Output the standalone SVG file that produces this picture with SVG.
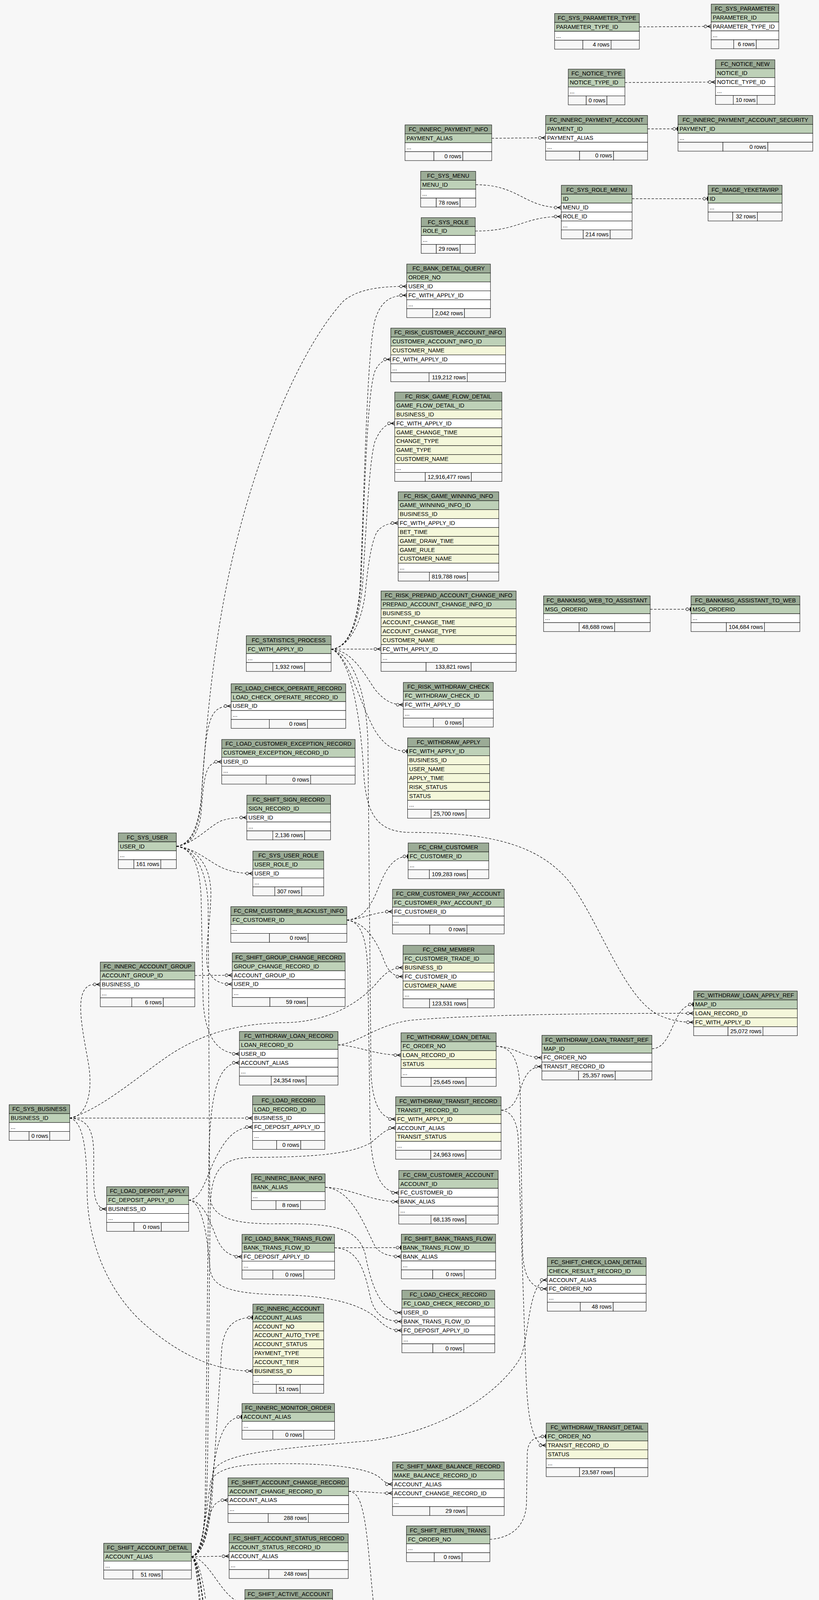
<svg xmlns="http://www.w3.org/2000/svg" width="2097" height="4999" viewBox="0 0 2097 4999">
<style>
.n rect{stroke:#000;stroke-width:1}
.h{fill:#9bab96}.pk{fill:#bed1b8}.ix{fill:#f4f7da}.w{fill:#fff}.f{fill:#f7f7f7}
text{font-family:"Liberation Sans",Arial,Helvetica,sans-serif;font-size:14.6px;fill:#000}
.c{text-anchor:middle}.r{text-anchor:end}
.e{fill:none;stroke:#000;stroke-width:1.2;stroke-dasharray:6,4}
.cr{marker-end:url(#cr)}.te{marker-end:url(#te)}
</style>
<defs>
<marker id="cr" viewBox="0 0 20 12" refX="20" refY="6" markerWidth="20" markerHeight="12" orient="auto" markerUnits="userSpaceOnUse">
<path d="M10.5,6 L20,1.5 M10.5,6 L20,6 M10.5,6 L20,10.5 M9,6 L10.5,6" stroke="#000" stroke-width="1.3" fill="none"/>
<circle cx="5.5" cy="6" r="3.6" fill="#fff" stroke="#000" stroke-width="1.1"/>
</marker>
<marker id="te" viewBox="0 0 20 12" refX="20" refY="6" markerWidth="20" markerHeight="12" orient="auto" markerUnits="userSpaceOnUse">
<path d="M14,6 L17,6" stroke="#000" stroke-width="1.2"/>
<circle cx="10.5" cy="6" r="3.6" fill="#fff" stroke="#000" stroke-width="1.1"/>
<rect x="17" y="1" width="3" height="10" fill="#000"/>
</marker>
</defs>
<rect width="2097" height="4999" fill="#f7f7f7"/>

<g id="FC_SYS_PARAMETER_TYPE" class="n" transform="translate(1420,34.5)">
<rect class="h" width="217" height="22.85"/><text class="c" x="108.5" y="16.4">FC_SYS_PARAMETER_TYPE</text>
<rect class="pk" y="22.85" width="217" height="22.85"/><text x="4" y="39.25">PARAMETER_TYPE_ID</text>
<rect class="w" y="45.7" width="217" height="22.85"/><text x="4" y="62.1">...</text>
<rect class="f" y="68.55" width="72.35" height="22.85"/><rect class="f" x="72.35" y="68.55" width="72.3" height="22.85"/><rect class="f" x="144.65" y="68.55" width="72.35" height="22.85"/><text class="r" x="140.65" y="84.95">4 rows</text>
</g>
<g id="FC_SYS_PARAMETER" class="n" transform="translate(1821,10.5)">
<rect class="h" width="173" height="22.85"/><text class="c" x="86.5" y="16.4">FC_SYS_PARAMETER</text>
<rect class="pk" y="22.85" width="173" height="22.85"/><text x="4" y="39.25">PARAMETER_ID</text>
<rect class="w" y="45.7" width="173" height="22.85"/><text x="4" y="62.1">PARAMETER_TYPE_ID</text>
<rect class="w" y="68.55" width="173" height="22.85"/><text x="4" y="84.95">...</text>
<rect class="f" y="91.4" width="57.65" height="22.85"/><rect class="f" x="57.65" y="91.4" width="57.7" height="22.85"/><rect class="f" x="115.35" y="91.4" width="57.65" height="22.85"/><text class="r" x="111.35" y="107.8">6 rows</text>
</g>
<g id="FC_NOTICE_TYPE" class="n" transform="translate(1455,177)">
<rect class="h" width="145" height="22.85"/><text class="c" x="72.5" y="16.4">FC_NOTICE_TYPE</text>
<rect class="pk" y="22.85" width="145" height="22.85"/><text x="4" y="39.25">NOTICE_TYPE_ID</text>
<rect class="w" y="45.7" width="145" height="22.85"/><text x="4" y="62.1">...</text>
<rect class="f" y="68.55" width="46" height="22.85"/><rect class="f" x="46" y="68.55" width="53" height="22.85"/><rect class="f" x="99" y="68.55" width="46" height="22.85"/><text class="r" x="95" y="84.95">0 rows</text>
</g>
<g id="FC_NOTICE_NEW" class="n" transform="translate(1832,153)">
<rect class="h" width="152" height="22.85"/><text class="c" x="76" y="16.4">FC_NOTICE_NEW</text>
<rect class="pk" y="22.85" width="152" height="22.85"/><text x="4" y="39.25">NOTICE_ID</text>
<rect class="w" y="45.7" width="152" height="22.85"/><text x="4" y="62.1">NOTICE_TYPE_ID</text>
<rect class="w" y="68.55" width="152" height="22.85"/><text x="4" y="84.95">...</text>
<rect class="f" y="91.4" width="45.5" height="22.85"/><rect class="f" x="45.5" y="91.4" width="61" height="22.85"/><rect class="f" x="106.5" y="91.4" width="45.5" height="22.85"/><text class="r" x="102.5" y="107.8">10 rows</text>
</g>
<g id="FC_INNERC_PAYMENT_INFO" class="n" transform="translate(1037,319.7)">
<rect class="h" width="222" height="22.85"/><text class="c" x="111" y="16.4">FC_INNERC_PAYMENT_INFO</text>
<rect class="pk" y="22.85" width="222" height="22.85"/><text x="4" y="39.25">PAYMENT_ALIAS</text>
<rect class="w" y="45.7" width="222" height="22.85"/><text x="4" y="62.1">...</text>
<rect class="f" y="68.55" width="74" height="22.85"/><rect class="f" x="74" y="68.55" width="74" height="22.85"/><rect class="f" x="148" y="68.55" width="74" height="22.85"/><text class="r" x="144" y="84.95">0 rows</text>
</g>
<g id="FC_INNERC_PAYMENT_ACCOUNT" class="n" transform="translate(1397,295.6)">
<rect class="h" width="261" height="22.85"/><text class="c" x="130.5" y="16.4">FC_INNERC_PAYMENT_ACCOUNT</text>
<rect class="pk" y="22.85" width="261" height="22.85"/><text x="4" y="39.25">PAYMENT_ID</text>
<rect class="w" y="45.7" width="261" height="22.85"/><text x="4" y="62.1">PAYMENT_ALIAS</text>
<rect class="w" y="68.55" width="261" height="22.85"/><text x="4" y="84.95">...</text>
<rect class="f" y="91.4" width="87" height="22.85"/><rect class="f" x="87" y="91.4" width="87" height="22.85"/><rect class="f" x="174" y="91.4" width="87" height="22.85"/><text class="r" x="170" y="107.8">0 rows</text>
</g>
<g id="FC_INNERC_PAYMENT_ACCOUNT_SECURITY" class="n" transform="translate(1736,295.6)">
<rect class="h" width="345" height="22.85"/><text class="c" x="172.5" y="16.4">FC_INNERC_PAYMENT_ACCOUNT_SECURITY</text>
<rect class="pk" y="22.85" width="345" height="22.85"/><text x="4" y="39.25">PAYMENT_ID</text>
<rect class="w" y="45.7" width="345" height="22.85"/><text x="4" y="62.1">...</text>
<rect class="f" y="68.55" width="115" height="22.85"/><rect class="f" x="115" y="68.55" width="115" height="22.85"/><rect class="f" x="230" y="68.55" width="115" height="22.85"/><text class="r" x="226" y="84.95">0 rows</text>
</g>
<g id="FC_SYS_MENU" class="n" transform="translate(1077,438.6)">
<rect class="h" width="141" height="22.85"/><text class="c" x="70.5" y="16.4">FC_SYS_MENU</text>
<rect class="pk" y="22.85" width="141" height="22.85"/><text x="4" y="39.25">MENU_ID</text>
<rect class="w" y="45.7" width="141" height="22.85"/><text x="4" y="62.1">...</text>
<rect class="f" y="68.55" width="40" height="22.85"/><rect class="f" x="40" y="68.55" width="61" height="22.85"/><rect class="f" x="101" y="68.55" width="40" height="22.85"/><text class="r" x="97" y="84.95">78 rows</text>
</g>
<g id="FC_SYS_ROLE" class="n" transform="translate(1078.4,557.2)">
<rect class="h" width="138.5" height="22.85"/><text class="c" x="69.25" y="16.4">FC_SYS_ROLE</text>
<rect class="pk" y="22.85" width="138.5" height="22.85"/><text x="4" y="39.25">ROLE_ID</text>
<rect class="w" y="45.7" width="138.5" height="22.85"/><text x="4" y="62.1">...</text>
<rect class="f" y="68.55" width="38.75" height="22.85"/><rect class="f" x="38.75" y="68.55" width="61" height="22.85"/><rect class="f" x="99.75" y="68.55" width="38.75" height="22.85"/><text class="r" x="95.75" y="84.95">29 rows</text>
</g>
<g id="FC_SYS_ROLE_MENU" class="n" transform="translate(1437.2,474.3)">
<rect class="h" width="181.2" height="22.85"/><text class="c" x="90.6" y="16.4">FC_SYS_ROLE_MENU</text>
<rect class="pk" y="22.85" width="181.2" height="22.85"/><text x="4" y="39.25">ID</text>
<rect class="w" y="45.7" width="181.2" height="22.85"/><text x="4" y="62.1">MENU_ID</text>
<rect class="w" y="68.55" width="181.2" height="22.85"/><text x="4" y="84.95">ROLE_ID</text>
<rect class="w" y="91.4" width="181.2" height="22.85"/><text x="4" y="107.8">...</text>
<rect class="f" y="114.25" width="56.1" height="22.85"/><rect class="f" x="56.1" y="114.25" width="69" height="22.85"/><rect class="f" x="125.1" y="114.25" width="56.1" height="22.85"/><text class="r" x="121.1" y="130.65">214 rows</text>
</g>
<g id="FC_IMAGE_YEKETAVIRP" class="n" transform="translate(1813,474.3)">
<rect class="h" width="189.5" height="22.85"/><text class="c" x="94.75" y="16.4">FC_IMAGE_YEKETAVIRP</text>
<rect class="pk" y="22.85" width="189.5" height="22.85"/><text x="4" y="39.25">ID</text>
<rect class="w" y="45.7" width="189.5" height="22.85"/><text x="4" y="62.1">...</text>
<rect class="f" y="68.55" width="63.15" height="22.85"/><rect class="f" x="63.15" y="68.55" width="63.2" height="22.85"/><rect class="f" x="126.35" y="68.55" width="63.15" height="22.85"/><text class="r" x="122.35" y="84.95">32 rows</text>
</g>
<g id="FC_BANK_DETAIL_QUERY" class="n" transform="translate(1041.4,676)">
<rect class="h" width="214.4" height="22.85"/><text class="c" x="107.2" y="16.4">FC_BANK_DETAIL_QUERY</text>
<rect class="pk" y="22.85" width="214.4" height="22.85"/><text x="4" y="39.25">ORDER_NO</text>
<rect class="w" y="45.7" width="214.4" height="22.85"/><text x="4" y="62.1">USER_ID</text>
<rect class="w" y="68.55" width="214.4" height="22.85"/><text x="4" y="84.95">FC_WITH_APPLY_ID</text>
<rect class="w" y="91.4" width="214.4" height="22.85"/><text x="4" y="107.8">...</text>
<rect class="f" y="114.25" width="66.5" height="22.85"/><rect class="f" x="66.5" y="114.25" width="81.4" height="22.85"/><rect class="f" x="147.9" y="114.25" width="66.5" height="22.85"/><text class="r" x="143.9" y="130.65">2,042 rows</text>
</g>
<g id="FC_RISK_CUSTOMER_ACCOUNT_INFO" class="n" transform="translate(1000.5,840)">
<rect class="h" width="294" height="22.85"/><text class="c" x="147" y="16.4">FC_RISK_CUSTOMER_ACCOUNT_INFO</text>
<rect class="pk" y="22.85" width="294" height="22.85"/><text x="4" y="39.25">CUSTOMER_ACCOUNT_INFO_ID</text>
<rect class="ix" y="45.7" width="294" height="22.85"/><text x="4" y="62.1">CUSTOMER_NAME</text>
<rect class="w" y="68.55" width="294" height="22.85"/><text x="4" y="84.95">FC_WITH_APPLY_ID</text>
<rect class="w" y="91.4" width="294" height="22.85"/><text x="4" y="107.8">...</text>
<rect class="f" y="114.25" width="98" height="22.85"/><rect class="f" x="98" y="114.25" width="98" height="22.85"/><rect class="f" x="196" y="114.25" width="98" height="22.85"/><text class="r" x="192" y="130.65">119,212 rows</text>
</g>
<g id="FC_RISK_GAME_FLOW_DETAIL" class="n" transform="translate(1010.7,1003.8)">
<rect class="h" width="274.3" height="22.85"/><text class="c" x="137.15" y="16.4">FC_RISK_GAME_FLOW_DETAIL</text>
<rect class="pk" y="22.85" width="274.3" height="22.85"/><text x="4" y="39.25">GAME_FLOW_DETAIL_ID</text>
<rect class="ix" y="45.7" width="274.3" height="22.85"/><text x="4" y="62.1">BUSINESS_ID</text>
<rect class="w" y="68.55" width="274.3" height="22.85"/><text x="4" y="84.95">FC_WITH_APPLY_ID</text>
<rect class="ix" y="91.4" width="274.3" height="22.85"/><text x="4" y="107.8">GAME_CHANGE_TIME</text>
<rect class="ix" y="114.25" width="274.3" height="22.85"/><text x="4" y="130.65">CHANGE_TYPE</text>
<rect class="ix" y="137.1" width="274.3" height="22.85"/><text x="4" y="153.5">GAME_TYPE</text>
<rect class="ix" y="159.95" width="274.3" height="22.85"/><text x="4" y="176.35">CUSTOMER_NAME</text>
<rect class="w" y="182.8" width="274.3" height="22.85"/><text x="4" y="199.2">...</text>
<rect class="f" y="205.65" width="78.15" height="22.85"/><rect class="f" x="78.15" y="205.65" width="118" height="22.85"/><rect class="f" x="196.15" y="205.65" width="78.15" height="22.85"/><text class="r" x="192.15" y="222.05">12,916,477 rows</text>
</g>
<g id="FC_RISK_GAME_WINNING_INFO" class="n" transform="translate(1019.5,1259)">
<rect class="h" width="257.5" height="22.85"/><text class="c" x="128.75" y="16.4">FC_RISK_GAME_WINNING_INFO</text>
<rect class="pk" y="22.85" width="257.5" height="22.85"/><text x="4" y="39.25">GAME_WINNING_INFO_ID</text>
<rect class="ix" y="45.7" width="257.5" height="22.85"/><text x="4" y="62.1">BUSINESS_ID</text>
<rect class="w" y="68.55" width="257.5" height="22.85"/><text x="4" y="84.95">FC_WITH_APPLY_ID</text>
<rect class="ix" y="91.4" width="257.5" height="22.85"/><text x="4" y="107.8">BET_TIME</text>
<rect class="ix" y="114.25" width="257.5" height="22.85"/><text x="4" y="130.65">GAME_DRAW_TIME</text>
<rect class="ix" y="137.1" width="257.5" height="22.85"/><text x="4" y="153.5">GAME_RULE</text>
<rect class="ix" y="159.95" width="257.5" height="22.85"/><text x="4" y="176.35">CUSTOMER_NAME</text>
<rect class="w" y="182.8" width="257.5" height="22.85"/><text x="4" y="199.2">...</text>
<rect class="f" y="205.65" width="79.95" height="22.85"/><rect class="f" x="79.95" y="205.65" width="97.6" height="22.85"/><rect class="f" x="177.55" y="205.65" width="79.95" height="22.85"/><text class="r" x="173.55" y="222.05">819,788 rows</text>
</g>
<g id="FC_RISK_PREPAID_ACCOUNT_CHANGE_INFO" class="n" transform="translate(975.6,1513)">
<rect class="h" width="346" height="22.85"/><text class="c" x="173" y="16.4">FC_RISK_PREPAID_ACCOUNT_CHANGE_INFO</text>
<rect class="pk" y="22.85" width="346" height="22.85"/><text x="4" y="39.25">PREPAID_ACCOUNT_CHANGE_INFO_ID</text>
<rect class="ix" y="45.7" width="346" height="22.85"/><text x="4" y="62.1">BUSINESS_ID</text>
<rect class="ix" y="68.55" width="346" height="22.85"/><text x="4" y="84.95">ACCOUNT_CHANGE_TIME</text>
<rect class="ix" y="91.4" width="346" height="22.85"/><text x="4" y="107.8">ACCOUNT_CHANGE_TYPE</text>
<rect class="ix" y="114.25" width="346" height="22.85"/><text x="4" y="130.65">CUSTOMER_NAME</text>
<rect class="w" y="137.1" width="346" height="22.85"/><text x="4" y="153.5">FC_WITH_APPLY_ID</text>
<rect class="w" y="159.95" width="346" height="22.85"/><text x="4" y="176.35">...</text>
<rect class="f" y="182.8" width="115.35" height="22.85"/><rect class="f" x="115.35" y="182.8" width="115.3" height="22.85"/><rect class="f" x="230.65" y="182.8" width="115.35" height="22.85"/><text class="r" x="226.65" y="199.2">133,821 rows</text>
</g>
<g id="FC_BANKMSG_WEB_TO_ASSISTANT" class="n" transform="translate(1391.8,1525.4)">
<rect class="h" width="273" height="22.85"/><text class="c" x="136.5" y="16.4">FC_BANKMSG_WEB_TO_ASSISTANT</text>
<rect class="pk" y="22.85" width="273" height="22.85"/><text x="4" y="39.25">MSG_ORDERID</text>
<rect class="w" y="45.7" width="273" height="22.85"/><text x="4" y="62.1">...</text>
<rect class="f" y="68.55" width="91" height="22.85"/><rect class="f" x="91" y="68.55" width="91" height="22.85"/><rect class="f" x="182" y="68.55" width="91" height="22.85"/><text class="r" x="178" y="84.95">48,688 rows</text>
</g>
<g id="FC_BANKMSG_ASSISTANT_TO_WEB" class="n" transform="translate(1769.3,1525.4)">
<rect class="h" width="278.7" height="22.85"/><text class="c" x="139.35" y="16.4">FC_BANKMSG_ASSISTANT_TO_WEB</text>
<rect class="pk" y="22.85" width="278.7" height="22.85"/><text x="4" y="39.25">MSG_ORDERID</text>
<rect class="w" y="45.7" width="278.7" height="22.85"/><text x="4" y="62.1">...</text>
<rect class="f" y="68.55" width="90.55" height="22.85"/><rect class="f" x="90.55" y="68.55" width="97.6" height="22.85"/><rect class="f" x="188.15" y="68.55" width="90.55" height="22.85"/><text class="r" x="184.15" y="84.95">104,684 rows</text>
</g>
<g id="FC_RISK_WITHDRAW_CHECK" class="n" transform="translate(1032.7,1747)">
<rect class="h" width="230.4" height="22.85"/><text class="c" x="115.2" y="16.4">FC_RISK_WITHDRAW_CHECK</text>
<rect class="pk" y="22.85" width="230.4" height="22.85"/><text x="4" y="39.25">FC_WITHDRAW_CHECK_ID</text>
<rect class="w" y="45.7" width="230.4" height="22.85"/><text x="4" y="62.1">FC_WITH_APPLY_ID</text>
<rect class="w" y="68.55" width="230.4" height="22.85"/><text x="4" y="84.95">...</text>
<rect class="f" y="91.4" width="76.8" height="22.85"/><rect class="f" x="76.8" y="91.4" width="76.8" height="22.85"/><rect class="f" x="153.6" y="91.4" width="76.8" height="22.85"/><text class="r" x="149.6" y="107.8">0 rows</text>
</g>
<g id="FC_WITHDRAW_APPLY" class="n" transform="translate(1043.6,1889)">
<rect class="h" width="210" height="22.85"/><text class="c" x="105" y="16.4">FC_WITHDRAW_APPLY</text>
<rect class="pk" y="22.85" width="210" height="22.85"/><text x="4" y="39.25">FC_WITH_APPLY_ID</text>
<rect class="ix" y="45.7" width="210" height="22.85"/><text x="4" y="62.1">BUSINESS_ID</text>
<rect class="ix" y="68.55" width="210" height="22.85"/><text x="4" y="84.95">USER_NAME</text>
<rect class="ix" y="91.4" width="210" height="22.85"/><text x="4" y="107.8">APPLY_TIME</text>
<rect class="ix" y="114.25" width="210" height="22.85"/><text x="4" y="130.65">RISK_STATUS</text>
<rect class="ix" y="137.1" width="210" height="22.85"/><text x="4" y="153.5">STATUS</text>
<rect class="w" y="159.95" width="210" height="22.85"/><text x="4" y="176.35">...</text>
<rect class="f" y="182.8" width="60.25" height="22.85"/><rect class="f" x="60.25" y="182.8" width="89.5" height="22.85"/><rect class="f" x="149.75" y="182.8" width="60.25" height="22.85"/><text class="r" x="145.75" y="199.2">25,700 rows</text>
</g>
<g id="FC_CRM_CUSTOMER" class="n" transform="translate(1045,2158)">
<rect class="h" width="206.4" height="22.85"/><text class="c" x="103.2" y="16.4">FC_CRM_CUSTOMER</text>
<rect class="pk" y="22.85" width="206.4" height="22.85"/><text x="4" y="39.25">FC_CUSTOMER_ID</text>
<rect class="w" y="45.7" width="206.4" height="22.85"/><text x="4" y="62.1">...</text>
<rect class="f" y="68.55" width="54.4" height="22.85"/><rect class="f" x="54.4" y="68.55" width="97.6" height="22.85"/><rect class="f" x="152" y="68.55" width="54.4" height="22.85"/><text class="r" x="148" y="84.95">109,283 rows</text>
</g>
<g id="FC_CRM_CUSTOMER_PAY_ACCOUNT" class="n" transform="translate(1005,2276.6)">
<rect class="h" width="286" height="22.85"/><text class="c" x="143" y="16.4">FC_CRM_CUSTOMER_PAY_ACCOUNT</text>
<rect class="pk" y="22.85" width="286" height="22.85"/><text x="4" y="39.25">FC_CUSTOMER_PAY_ACCOUNT_ID</text>
<rect class="w" y="45.7" width="286" height="22.85"/><text x="4" y="62.1">FC_CUSTOMER_ID</text>
<rect class="w" y="68.55" width="286" height="22.85"/><text x="4" y="84.95">...</text>
<rect class="f" y="91.4" width="95.35" height="22.85"/><rect class="f" x="95.35" y="91.4" width="95.3" height="22.85"/><rect class="f" x="190.65" y="91.4" width="95.35" height="22.85"/><text class="r" x="186.65" y="107.8">0 rows</text>
</g>
<g id="FC_CRM_MEMBER" class="n" transform="translate(1032,2420)">
<rect class="h" width="233.4" height="22.85"/><text class="c" x="116.7" y="16.4">FC_CRM_MEMBER</text>
<rect class="pk" y="22.85" width="233.4" height="22.85"/><text x="4" y="39.25">FC_CUSTOMER_TRADE_ID</text>
<rect class="ix" y="45.7" width="233.4" height="22.85"/><text x="4" y="62.1">BUSINESS_ID</text>
<rect class="w" y="68.55" width="233.4" height="22.85"/><text x="4" y="84.95">FC_CUSTOMER_ID</text>
<rect class="ix" y="91.4" width="233.4" height="22.85"/><text x="4" y="107.8">CUSTOMER_NAME</text>
<rect class="w" y="114.25" width="233.4" height="22.85"/><text x="4" y="130.65">...</text>
<rect class="f" y="137.1" width="67.9" height="22.85"/><rect class="f" x="67.9" y="137.1" width="97.6" height="22.85"/><rect class="f" x="165.5" y="137.1" width="67.9" height="22.85"/><text class="r" x="161.5" y="153.5">123,531 rows</text>
</g>
<g id="FC_WITHDRAW_LOAN_APPLY_REF" class="n" transform="translate(1776,2537)">
<rect class="h" width="265.5" height="22.85"/><text class="c" x="132.75" y="16.4">FC_WITHDRAW_LOAN_APPLY_REF</text>
<rect class="pk" y="22.85" width="265.5" height="22.85"/><text x="4" y="39.25">MAP_ID</text>
<rect class="ix" y="45.7" width="265.5" height="22.85"/><text x="4" y="62.1">LOAN_RECORD_ID</text>
<rect class="ix" y="68.55" width="265.5" height="22.85"/><text x="4" y="84.95">FC_WITH_APPLY_ID</text>
<rect class="f" y="91.4" width="88" height="22.85"/><rect class="f" x="88" y="91.4" width="89.5" height="22.85"/><rect class="f" x="177.5" y="91.4" width="88" height="22.85"/><text class="r" x="173.5" y="107.8">25,072 rows</text>
</g>
<g id="FC_WITHDRAW_LOAN_DETAIL" class="n" transform="translate(1026.8,2644)">
<rect class="h" width="243.6" height="22.85"/><text class="c" x="121.8" y="16.4">FC_WITHDRAW_LOAN_DETAIL</text>
<rect class="pk" y="22.85" width="243.6" height="22.85"/><text x="4" y="39.25">FC_ORDER_NO</text>
<rect class="ix" y="45.7" width="243.6" height="22.85"/><text x="4" y="62.1">LOAN_RECORD_ID</text>
<rect class="ix" y="68.55" width="243.6" height="22.85"/><text x="4" y="84.95">STATUS</text>
<rect class="w" y="91.4" width="243.6" height="22.85"/><text x="4" y="107.8">...</text>
<rect class="f" y="114.25" width="77.05" height="22.85"/><rect class="f" x="77.05" y="114.25" width="89.5" height="22.85"/><rect class="f" x="166.55" y="114.25" width="77.05" height="22.85"/><text class="r" x="162.55" y="130.65">25,645 rows</text>
</g>
<g id="FC_WITHDRAW_LOAN_TRANSIT_REF" class="n" transform="translate(1387.5,2650.4)">
<rect class="h" width="281.6" height="22.85"/><text class="c" x="140.8" y="16.4">FC_WITHDRAW_LOAN_TRANSIT_REF</text>
<rect class="pk" y="22.85" width="281.6" height="22.85"/><text x="4" y="39.25">MAP_ID</text>
<rect class="w" y="45.7" width="281.6" height="22.85"/><text x="4" y="62.1">FC_ORDER_NO</text>
<rect class="w" y="68.55" width="281.6" height="22.85"/><text x="4" y="84.95">TRANSIT_RECORD_ID</text>
<rect class="f" y="91.4" width="93.85" height="22.85"/><rect class="f" x="93.85" y="91.4" width="93.9" height="22.85"/><rect class="f" x="187.75" y="91.4" width="93.85" height="22.85"/><text class="r" x="183.75" y="107.8">25,357 rows</text>
</g>
<g id="FC_WITHDRAW_TRANSIT_RECORD" class="n" transform="translate(1013,2807.7)">
<rect class="h" width="270" height="22.85"/><text class="c" x="135" y="16.4">FC_WITHDRAW_TRANSIT_RECORD</text>
<rect class="pk" y="22.85" width="270" height="22.85"/><text x="4" y="39.25">TRANSIT_RECORD_ID</text>
<rect class="ix" y="45.7" width="270" height="22.85"/><text x="4" y="62.1">FC_WITH_APPLY_ID</text>
<rect class="w" y="68.55" width="270" height="22.85"/><text x="4" y="84.95">ACCOUNT_ALIAS</text>
<rect class="ix" y="91.4" width="270" height="22.85"/><text x="4" y="107.8">TRANSIT_STATUS</text>
<rect class="w" y="114.25" width="270" height="22.85"/><text x="4" y="130.65">...</text>
<rect class="f" y="137.1" width="90" height="22.85"/><rect class="f" x="90" y="137.1" width="90" height="22.85"/><rect class="f" x="180" y="137.1" width="90" height="22.85"/><text class="r" x="176" y="153.5">24,963 rows</text>
</g>
<g id="FC_CRM_CUSTOMER_ACCOUNT" class="n" transform="translate(1021,2996.4)">
<rect class="h" width="254.5" height="22.85"/><text class="c" x="127.25" y="16.4">FC_CRM_CUSTOMER_ACCOUNT</text>
<rect class="pk" y="22.85" width="254.5" height="22.85"/><text x="4" y="39.25">ACCOUNT_ID</text>
<rect class="w" y="45.7" width="254.5" height="22.85"/><text x="4" y="62.1">FC_CUSTOMER_ID</text>
<rect class="w" y="68.55" width="254.5" height="22.85"/><text x="4" y="84.95">BANK_ALIAS</text>
<rect class="w" y="91.4" width="254.5" height="22.85"/><text x="4" y="107.8">...</text>
<rect class="f" y="114.25" width="82.5" height="22.85"/><rect class="f" x="82.5" y="114.25" width="89.5" height="22.85"/><rect class="f" x="172" y="114.25" width="82.5" height="22.85"/><text class="r" x="168" y="130.65">68,135 rows</text>
</g>
<g id="FC_SHIFT_BANK_TRANS_FLOW" class="n" transform="translate(1027.5,3159.5)">
<rect class="h" width="241.4" height="22.85"/><text class="c" x="120.7" y="16.4">FC_SHIFT_BANK_TRANS_FLOW</text>
<rect class="pk" y="22.85" width="241.4" height="22.85"/><text x="4" y="39.25">BANK_TRANS_FLOW_ID</text>
<rect class="w" y="45.7" width="241.4" height="22.85"/><text x="4" y="62.1">BANK_ALIAS</text>
<rect class="w" y="68.55" width="241.4" height="22.85"/><text x="4" y="84.95">...</text>
<rect class="f" y="91.4" width="80.45" height="22.85"/><rect class="f" x="80.45" y="91.4" width="80.5" height="22.85"/><rect class="f" x="160.95" y="91.4" width="80.45" height="22.85"/><text class="r" x="156.95" y="107.8">0 rows</text>
</g>
<g id="FC_LOAD_CHECK_RECORD" class="n" transform="translate(1029,3303)">
<rect class="h" width="237.8" height="22.85"/><text class="c" x="118.9" y="16.4">FC_LOAD_CHECK_RECORD</text>
<rect class="pk" y="22.85" width="237.8" height="22.85"/><text x="4" y="39.25">FC_LOAD_CHECK_RECORD_ID</text>
<rect class="w" y="45.7" width="237.8" height="22.85"/><text x="4" y="62.1">USER_ID</text>
<rect class="w" y="68.55" width="237.8" height="22.85"/><text x="4" y="84.95">BANK_TRANS_FLOW_ID</text>
<rect class="w" y="91.4" width="237.8" height="22.85"/><text x="4" y="107.8">FC_DEPOSIT_APPLY_ID</text>
<rect class="w" y="114.25" width="237.8" height="22.85"/><text x="4" y="130.65">...</text>
<rect class="f" y="137.1" width="79.25" height="22.85"/><rect class="f" x="79.25" y="137.1" width="79.3" height="22.85"/><rect class="f" x="158.55" y="137.1" width="79.25" height="22.85"/><text class="r" x="154.55" y="153.5">0 rows</text>
</g>
<g id="FC_SHIFT_CHECK_LOAN_DETAIL" class="n" transform="translate(1401.4,3219.5)">
<rect class="h" width="253" height="22.85"/><text class="c" x="126.5" y="16.4">FC_SHIFT_CHECK_LOAN_DETAIL</text>
<rect class="pk" y="22.85" width="253" height="22.85"/><text x="4" y="39.25">CHECK_RESULT_RECORD_ID</text>
<rect class="w" y="45.7" width="253" height="22.85"/><text x="4" y="62.1">ACCOUNT_ALIAS</text>
<rect class="w" y="68.55" width="253" height="22.85"/><text x="4" y="84.95">FC_ORDER_NO</text>
<rect class="w" y="91.4" width="253" height="22.85"/><text x="4" y="107.8">...</text>
<rect class="f" y="114.25" width="84.35" height="22.85"/><rect class="f" x="84.35" y="114.25" width="84.3" height="22.85"/><rect class="f" x="168.65" y="114.25" width="84.35" height="22.85"/><text class="r" x="164.65" y="130.65">48 rows</text>
</g>
<g id="FC_WITHDRAW_TRANSIT_DETAIL" class="n" transform="translate(1398.4,3643)">
<rect class="h" width="260.4" height="22.85"/><text class="c" x="130.2" y="16.4">FC_WITHDRAW_TRANSIT_DETAIL</text>
<rect class="pk" y="22.85" width="260.4" height="22.85"/><text x="4" y="39.25">FC_ORDER_NO</text>
<rect class="ix" y="45.7" width="260.4" height="22.85"/><text x="4" y="62.1">TRANSIT_RECORD_ID</text>
<rect class="ix" y="68.55" width="260.4" height="22.85"/><text x="4" y="84.95">STATUS</text>
<rect class="w" y="91.4" width="260.4" height="22.85"/><text x="4" y="107.8">...</text>
<rect class="f" y="114.25" width="85.45" height="22.85"/><rect class="f" x="85.45" y="114.25" width="89.5" height="22.85"/><rect class="f" x="174.95" y="114.25" width="85.45" height="22.85"/><text class="r" x="170.95" y="130.65">23,587 rows</text>
</g>
<g id="FC_SHIFT_MAKE_BALANCE_RECORD" class="n" transform="translate(1005,3742.6)">
<rect class="h" width="286" height="22.85"/><text class="c" x="143" y="16.4">FC_SHIFT_MAKE_BALANCE_RECORD</text>
<rect class="pk" y="22.85" width="286" height="22.85"/><text x="4" y="39.25">MAKE_BALANCE_RECORD_ID</text>
<rect class="w" y="45.7" width="286" height="22.85"/><text x="4" y="62.1">ACCOUNT_ALIAS</text>
<rect class="w" y="68.55" width="286" height="22.85"/><text x="4" y="84.95">ACCOUNT_CHANGE_RECORD_ID</text>
<rect class="w" y="91.4" width="286" height="22.85"/><text x="4" y="107.8">...</text>
<rect class="f" y="114.25" width="95.35" height="22.85"/><rect class="f" x="95.35" y="114.25" width="95.3" height="22.85"/><rect class="f" x="190.65" y="114.25" width="95.35" height="22.85"/><text class="r" x="186.65" y="130.65">29 rows</text>
</g>
<g id="FC_SHIFT_RETURN_TRANS" class="n" transform="translate(1040.7,3906.4)">
<rect class="h" width="213.6" height="22.85"/><text class="c" x="106.8" y="16.4">FC_SHIFT_RETURN_TRANS</text>
<rect class="pk" y="22.85" width="213.6" height="22.85"/><text x="4" y="39.25">FC_ORDER_NO</text>
<rect class="w" y="45.7" width="213.6" height="22.85"/><text x="4" y="62.1">...</text>
<rect class="f" y="68.55" width="71.2" height="22.85"/><rect class="f" x="71.2" y="68.55" width="71.2" height="22.85"/><rect class="f" x="142.4" y="68.55" width="71.2" height="22.85"/><text class="r" x="138.4" y="84.95">0 rows</text>
</g>
<g id="FC_SHIFT_MONITOR_ORDER" class="n" transform="translate(1021,4128.5)">
<rect class="h" width="253.8" height="22.85"/><text class="c" x="126.9" y="16.4">FC_SHIFT_MONITOR_ORDER</text>
<rect class="pk" y="22.85" width="253.8" height="22.85"/><text x="4" y="39.25">MONITOR_ID</text>
<rect class="w" y="45.7" width="253.8" height="22.85"/><text x="4" y="62.1">ACCOUNT_ALIAS</text>
<rect class="w" y="68.55" width="253.8" height="22.85"/><text x="4" y="84.95">ACCOUNT_CHANGE_RECORD_ID</text>
<rect class="w" y="91.4" width="253.8" height="22.85"/><text x="4" y="107.8">...</text>
<rect class="f" y="114.25" width="84.6" height="22.85"/><rect class="f" x="84.6" y="114.25" width="84.6" height="22.85"/><rect class="f" x="169.2" y="114.25" width="84.6" height="22.85"/><text class="r" x="165.2" y="130.65">13 rows</text>
</g>
<g id="FC_SHIFT_AUDIT_MONITOR" class="n" transform="translate(1421,4182.7)">
<rect class="h" width="213.6" height="22.85"/><text class="c" x="106.8" y="16.4">FC_SHIFT_AUDIT_MONITOR</text>
<rect class="pk" y="22.85" width="213.6" height="22.85"/><text x="4" y="39.25">MONITOR_ID</text>
<rect class="w" y="45.7" width="213.6" height="22.85"/><text x="4" y="62.1">ACCOUNT_ALIAS</text>
<rect class="w" y="68.55" width="213.6" height="22.85"/><text x="4" y="84.95">...</text>
<rect class="f" y="91.4" width="71.2" height="22.85"/><rect class="f" x="71.2" y="91.4" width="71.2" height="22.85"/><rect class="f" x="142.4" y="91.4" width="71.2" height="22.85"/><text class="r" x="138.4" y="107.8">62 rows</text>
</g>
<g id="FC_STATISTICS_PROCESS" class="n" transform="translate(630.6,1627.5)">
<rect class="h" width="217.2" height="22.85"/><text class="c" x="108.6" y="16.4">FC_STATISTICS_PROCESS</text>
<rect class="pk" y="22.85" width="217.2" height="22.85"/><text x="4" y="39.25">FC_WITH_APPLY_ID</text>
<rect class="w" y="45.7" width="217.2" height="22.85"/><text x="4" y="62.1">...</text>
<rect class="f" y="68.55" width="67.9" height="22.85"/><rect class="f" x="67.9" y="68.55" width="81.4" height="22.85"/><rect class="f" x="149.3" y="68.55" width="67.9" height="22.85"/><text class="r" x="145.3" y="84.95">1,932 rows</text>
</g>
<g id="FC_LOAD_CHECK_OPERATE_RECORD" class="n" transform="translate(591.8,1750.4)">
<rect class="h" width="293.4" height="22.85"/><text class="c" x="146.7" y="16.4">FC_LOAD_CHECK_OPERATE_RECORD</text>
<rect class="pk" y="22.85" width="293.4" height="22.85"/><text x="4" y="39.25">LOAD_CHECK_OPERATE_RECORD_ID</text>
<rect class="w" y="45.7" width="293.4" height="22.85"/><text x="4" y="62.1">USER_ID</text>
<rect class="w" y="68.55" width="293.4" height="22.85"/><text x="4" y="84.95">...</text>
<rect class="f" y="91.4" width="97.8" height="22.85"/><rect class="f" x="97.8" y="91.4" width="97.8" height="22.85"/><rect class="f" x="195.6" y="91.4" width="97.8" height="22.85"/><text class="r" x="191.6" y="107.8">0 rows</text>
</g>
<g id="FC_LOAD_CUSTOMER_EXCEPTION_RECORD" class="n" transform="translate(567.7,1893)">
<rect class="h" width="341.6" height="22.85"/><text class="c" x="170.8" y="16.4">FC_LOAD_CUSTOMER_EXCEPTION_RECORD</text>
<rect class="pk" y="22.85" width="341.6" height="22.85"/><text x="4" y="39.25">CUSTOMER_EXCEPTION_RECORD_ID</text>
<rect class="w" y="45.7" width="341.6" height="22.85"/><text x="4" y="62.1">USER_ID</text>
<rect class="w" y="68.55" width="341.6" height="22.85"/><text x="4" y="84.95">...</text>
<rect class="f" y="91.4" width="113.85" height="22.85"/><rect class="f" x="113.85" y="91.4" width="113.9" height="22.85"/><rect class="f" x="227.75" y="91.4" width="113.85" height="22.85"/><text class="r" x="223.75" y="107.8">0 rows</text>
</g>
<g id="FC_SHIFT_SIGN_RECORD" class="n" transform="translate(632,2035.7)">
<rect class="h" width="214.4" height="22.85"/><text class="c" x="107.2" y="16.4">FC_SHIFT_SIGN_RECORD</text>
<rect class="pk" y="22.85" width="214.4" height="22.85"/><text x="4" y="39.25">SIGN_RECORD_ID</text>
<rect class="w" y="45.7" width="214.4" height="22.85"/><text x="4" y="62.1">USER_ID</text>
<rect class="w" y="68.55" width="214.4" height="22.85"/><text x="4" y="84.95">...</text>
<rect class="f" y="91.4" width="66.5" height="22.85"/><rect class="f" x="66.5" y="91.4" width="81.4" height="22.85"/><rect class="f" x="147.9" y="91.4" width="66.5" height="22.85"/><text class="r" x="143.9" y="107.8">2,136 rows</text>
</g>
<g id="FC_SYS_USER" class="n" transform="translate(303,2132.3)">
<rect class="h" width="148.5" height="22.85"/><text class="c" x="74.25" y="16.4">FC_SYS_USER</text>
<rect class="pk" y="22.85" width="148.5" height="22.85"/><text x="4" y="39.25">USER_ID</text>
<rect class="w" y="45.7" width="148.5" height="22.85"/><text x="4" y="62.1">...</text>
<rect class="f" y="68.55" width="39.75" height="22.85"/><rect class="f" x="39.75" y="68.55" width="69" height="22.85"/><rect class="f" x="108.75" y="68.55" width="39.75" height="22.85"/><text class="r" x="104.75" y="84.95">161 rows</text>
</g>
<g id="FC_SYS_USER_ROLE" class="n" transform="translate(647.4,2179)">
<rect class="h" width="181.4" height="22.85"/><text class="c" x="90.7" y="16.4">FC_SYS_USER_ROLE</text>
<rect class="pk" y="22.85" width="181.4" height="22.85"/><text x="4" y="39.25">USER_ROLE_ID</text>
<rect class="w" y="45.7" width="181.4" height="22.85"/><text x="4" y="62.1">USER_ID</text>
<rect class="w" y="68.55" width="181.4" height="22.85"/><text x="4" y="84.95">...</text>
<rect class="f" y="91.4" width="56.2" height="22.85"/><rect class="f" x="56.2" y="91.4" width="69" height="22.85"/><rect class="f" x="125.2" y="91.4" width="56.2" height="22.85"/><text class="r" x="121.2" y="107.8">307 rows</text>
</g>
<g id="FC_CRM_CUSTOMER_BLACKLIST_INFO" class="n" transform="translate(591,2321)">
<rect class="h" width="297" height="22.85"/><text class="c" x="148.5" y="16.4">FC_CRM_CUSTOMER_BLACKLIST_INFO</text>
<rect class="pk" y="22.85" width="297" height="22.85"/><text x="4" y="39.25">FC_CUSTOMER_ID</text>
<rect class="w" y="45.7" width="297" height="22.85"/><text x="4" y="62.1">...</text>
<rect class="f" y="68.55" width="99" height="22.85"/><rect class="f" x="99" y="68.55" width="99" height="22.85"/><rect class="f" x="198" y="68.55" width="99" height="22.85"/><text class="r" x="194" y="84.95">0 rows</text>
</g>
<g id="FC_SHIFT_GROUP_CHANGE_RECORD" class="n" transform="translate(594.7,2439.5)">
<rect class="h" width="289" height="22.85"/><text class="c" x="144.5" y="16.4">FC_SHIFT_GROUP_CHANGE_RECORD</text>
<rect class="pk" y="22.85" width="289" height="22.85"/><text x="4" y="39.25">GROUP_CHANGE_RECORD_ID</text>
<rect class="w" y="45.7" width="289" height="22.85"/><text x="4" y="62.1">ACCOUNT_GROUP_ID</text>
<rect class="w" y="68.55" width="289" height="22.85"/><text x="4" y="84.95">USER_ID</text>
<rect class="w" y="91.4" width="289" height="22.85"/><text x="4" y="107.8">...</text>
<rect class="f" y="114.25" width="96.35" height="22.85"/><rect class="f" x="96.35" y="114.25" width="96.3" height="22.85"/><rect class="f" x="192.65" y="114.25" width="96.35" height="22.85"/><text class="r" x="188.65" y="130.65">59 rows</text>
</g>
<g id="FC_INNERC_ACCOUNT_GROUP" class="n" transform="translate(256.8,2463)">
<rect class="h" width="242" height="22.85"/><text class="c" x="121" y="16.4">FC_INNERC_ACCOUNT_GROUP</text>
<rect class="pk" y="22.85" width="242" height="22.85"/><text x="4" y="39.25">ACCOUNT_GROUP_ID</text>
<rect class="w" y="45.7" width="242" height="22.85"/><text x="4" y="62.1">BUSINESS_ID</text>
<rect class="w" y="68.55" width="242" height="22.85"/><text x="4" y="84.95">...</text>
<rect class="f" y="91.4" width="80.65" height="22.85"/><rect class="f" x="80.65" y="91.4" width="80.7" height="22.85"/><rect class="f" x="161.35" y="91.4" width="80.65" height="22.85"/><text class="r" x="157.35" y="107.8">6 rows</text>
</g>
<g id="FC_WITHDRAW_LOAN_RECORD" class="n" transform="translate(613,2640.7)">
<rect class="h" width="252.4" height="22.85"/><text class="c" x="126.2" y="16.4">FC_WITHDRAW_LOAN_RECORD</text>
<rect class="pk" y="22.85" width="252.4" height="22.85"/><text x="4" y="39.25">LOAN_RECORD_ID</text>
<rect class="w" y="45.7" width="252.4" height="22.85"/><text x="4" y="62.1">USER_ID</text>
<rect class="w" y="68.55" width="252.4" height="22.85"/><text x="4" y="84.95">ACCOUNT_ALIAS</text>
<rect class="w" y="91.4" width="252.4" height="22.85"/><text x="4" y="107.8">...</text>
<rect class="f" y="114.25" width="81.45" height="22.85"/><rect class="f" x="81.45" y="114.25" width="89.5" height="22.85"/><rect class="f" x="170.95" y="114.25" width="81.45" height="22.85"/><text class="r" x="166.95" y="130.65">24,354 rows</text>
</g>
<g id="FC_SYS_BUSINESS" class="n" transform="translate(23.4,2828)">
<rect class="h" width="155" height="22.85"/><text class="c" x="77.5" y="16.4">FC_SYS_BUSINESS</text>
<rect class="pk" y="22.85" width="155" height="22.85"/><text x="4" y="39.25">BUSINESS_ID</text>
<rect class="w" y="45.7" width="155" height="22.85"/><text x="4" y="62.1">...</text>
<rect class="f" y="68.55" width="51" height="22.85"/><rect class="f" x="51" y="68.55" width="53" height="22.85"/><rect class="f" x="104" y="68.55" width="51" height="22.85"/><text class="r" x="100" y="84.95">0 rows</text>
</g>
<g id="FC_LOAD_RECORD" class="n" transform="translate(646.7,2805.3)">
<rect class="h" width="185" height="22.85"/><text class="c" x="92.5" y="16.4">FC_LOAD_RECORD</text>
<rect class="pk" y="22.85" width="185" height="22.85"/><text x="4" y="39.25">LOAD_RECORD_ID</text>
<rect class="w" y="45.7" width="185" height="22.85"/><text x="4" y="62.1">BUSINESS_ID</text>
<rect class="w" y="68.55" width="185" height="22.85"/><text x="4" y="84.95">FC_DEPOSIT_APPLY_ID</text>
<rect class="w" y="91.4" width="185" height="22.85"/><text x="4" y="107.8">...</text>
<rect class="f" y="114.25" width="61.65" height="22.85"/><rect class="f" x="61.65" y="114.25" width="61.7" height="22.85"/><rect class="f" x="123.35" y="114.25" width="61.65" height="22.85"/><text class="r" x="119.35" y="130.65">0 rows</text>
</g>
<g id="FC_LOAD_DEPOSIT_APPLY" class="n" transform="translate(273,3038)">
<rect class="h" width="210" height="22.85"/><text class="c" x="105" y="16.4">FC_LOAD_DEPOSIT_APPLY</text>
<rect class="pk" y="22.85" width="210" height="22.85"/><text x="4" y="39.25">FC_DEPOSIT_APPLY_ID</text>
<rect class="w" y="45.7" width="210" height="22.85"/><text x="4" y="62.1">BUSINESS_ID</text>
<rect class="w" y="68.55" width="210" height="22.85"/><text x="4" y="84.95">...</text>
<rect class="f" y="91.4" width="70" height="22.85"/><rect class="f" x="70" y="91.4" width="70" height="22.85"/><rect class="f" x="140" y="91.4" width="70" height="22.85"/><text class="r" x="136" y="107.8">0 rows</text>
</g>
<g id="FC_INNERC_BANK_INFO" class="n" transform="translate(643.7,3005)">
<rect class="h" width="188.8" height="22.85"/><text class="c" x="94.4" y="16.4">FC_INNERC_BANK_INFO</text>
<rect class="pk" y="22.85" width="188.8" height="22.85"/><text x="4" y="39.25">BANK_ALIAS</text>
<rect class="w" y="45.7" width="188.8" height="22.85"/><text x="4" y="62.1">...</text>
<rect class="f" y="68.55" width="62.95" height="22.85"/><rect class="f" x="62.95" y="68.55" width="62.9" height="22.85"/><rect class="f" x="125.85" y="68.55" width="62.95" height="22.85"/><text class="r" x="121.85" y="84.95">8 rows</text>
</g>
<g id="FC_LOAD_BANK_TRANS_FLOW" class="n" transform="translate(619.6,3160)">
<rect class="h" width="237" height="22.85"/><text class="c" x="118.5" y="16.4">FC_LOAD_BANK_TRANS_FLOW</text>
<rect class="pk" y="22.85" width="237" height="22.85"/><text x="4" y="39.25">BANK_TRANS_FLOW_ID</text>
<rect class="w" y="45.7" width="237" height="22.85"/><text x="4" y="62.1">FC_DEPOSIT_APPLY_ID</text>
<rect class="w" y="68.55" width="237" height="22.85"/><text x="4" y="84.95">...</text>
<rect class="f" y="91.4" width="79" height="22.85"/><rect class="f" x="79" y="91.4" width="79" height="22.85"/><rect class="f" x="158" y="91.4" width="79" height="22.85"/><text class="r" x="154" y="107.8">0 rows</text>
</g>
<g id="FC_INNERC_ACCOUNT" class="n" transform="translate(647.4,3338.5)">
<rect class="h" width="181.4" height="22.85"/><text class="c" x="90.7" y="16.4">FC_INNERC_ACCOUNT</text>
<rect class="pk" y="22.85" width="181.4" height="22.85"/><text x="4" y="39.25">ACCOUNT_ALIAS</text>
<rect class="ix" y="45.7" width="181.4" height="22.85"/><text x="4" y="62.1">ACCOUNT_NO</text>
<rect class="ix" y="68.55" width="181.4" height="22.85"/><text x="4" y="84.95">ACCOUNT_AUTO_TYPE</text>
<rect class="ix" y="91.4" width="181.4" height="22.85"/><text x="4" y="107.8">ACCOUNT_STATUS</text>
<rect class="ix" y="114.25" width="181.4" height="22.85"/><text x="4" y="130.65">PAYMENT_TYPE</text>
<rect class="ix" y="137.1" width="181.4" height="22.85"/><text x="4" y="153.5">ACCOUNT_TIER</text>
<rect class="ix" y="159.95" width="181.4" height="22.85"/><text x="4" y="176.35">BUSINESS_ID</text>
<rect class="w" y="182.8" width="181.4" height="22.85"/><text x="4" y="199.2">...</text>
<rect class="f" y="205.65" width="60.2" height="22.85"/><rect class="f" x="60.2" y="205.65" width="61" height="22.85"/><rect class="f" x="121.2" y="205.65" width="60.2" height="22.85"/><text class="r" x="117.2" y="222.05">51 rows</text>
</g>
<g id="FC_INNERC_MONITOR_ORDER" class="n" transform="translate(619.6,3593)">
<rect class="h" width="237" height="22.85"/><text class="c" x="118.5" y="16.4">FC_INNERC_MONITOR_ORDER</text>
<rect class="pk" y="22.85" width="237" height="22.85"/><text x="4" y="39.25">ACCOUNT_ALIAS</text>
<rect class="w" y="45.7" width="237" height="22.85"/><text x="4" y="62.1">...</text>
<rect class="f" y="68.55" width="79" height="22.85"/><rect class="f" x="79" y="68.55" width="79" height="22.85"/><rect class="f" x="158" y="68.55" width="79" height="22.85"/><text class="r" x="154" y="84.95">0 rows</text>
</g>
<g id="FC_SHIFT_ACCOUNT_CHANGE_RECORD" class="n" transform="translate(583.8,3783.3)">
<rect class="h" width="308.7" height="22.85"/><text class="c" x="154.35" y="16.4">FC_SHIFT_ACCOUNT_CHANGE_RECORD</text>
<rect class="pk" y="22.85" width="308.7" height="22.85"/><text x="4" y="39.25">ACCOUNT_CHANGE_RECORD_ID</text>
<rect class="w" y="45.7" width="308.7" height="22.85"/><text x="4" y="62.1">ACCOUNT_ALIAS</text>
<rect class="w" y="68.55" width="308.7" height="22.85"/><text x="4" y="84.95">...</text>
<rect class="f" y="91.4" width="102.9" height="22.85"/><rect class="f" x="102.9" y="91.4" width="102.9" height="22.85"/><rect class="f" x="205.8" y="91.4" width="102.9" height="22.85"/><text class="r" x="201.8" y="107.8">288 rows</text>
</g>
<g id="FC_SHIFT_ACCOUNT_STATUS_RECORD" class="n" transform="translate(586.7,3926.7)">
<rect class="h" width="305" height="22.85"/><text class="c" x="152.5" y="16.4">FC_SHIFT_ACCOUNT_STATUS_RECORD</text>
<rect class="pk" y="22.85" width="305" height="22.85"/><text x="4" y="39.25">ACCOUNT_STATUS_RECORD_ID</text>
<rect class="w" y="45.7" width="305" height="22.85"/><text x="4" y="62.1">ACCOUNT_ALIAS</text>
<rect class="w" y="68.55" width="305" height="22.85"/><text x="4" y="84.95">...</text>
<rect class="f" y="91.4" width="101.65" height="22.85"/><rect class="f" x="101.65" y="91.4" width="101.7" height="22.85"/><rect class="f" x="203.35" y="91.4" width="101.65" height="22.85"/><text class="r" x="199.35" y="107.8">248 rows</text>
</g>
<g id="FC_SHIFT_ACCOUNT_DETAIL" class="n" transform="translate(265.5,3950.8)">
<rect class="h" width="224.6" height="22.85"/><text class="c" x="112.3" y="16.4">FC_SHIFT_ACCOUNT_DETAIL</text>
<rect class="pk" y="22.85" width="224.6" height="22.85"/><text x="4" y="39.25">ACCOUNT_ALIAS</text>
<rect class="w" y="45.7" width="224.6" height="22.85"/><text x="4" y="62.1">...</text>
<rect class="f" y="68.55" width="74.85" height="22.85"/><rect class="f" x="74.85" y="68.55" width="74.9" height="22.85"/><rect class="f" x="149.75" y="68.55" width="74.85" height="22.85"/><text class="r" x="145.75" y="84.95">51 rows</text>
</g>
<g id="FC_SHIFT_ACTIVE_ACCOUNT" class="n" transform="translate(627,4069.3)">
<rect class="h" width="224.6" height="22.85"/><text class="c" x="112.3" y="16.4">FC_SHIFT_ACTIVE_ACCOUNT</text>
<rect class="pk" y="22.85" width="224.6" height="22.85"/><text x="4" y="39.25">ACCOUNT_ALIAS</text>
<rect class="ix" y="45.7" width="224.6" height="22.85"/><text x="4" y="62.1">STATUS</text>
<rect class="ix" y="68.55" width="224.6" height="22.85"/><text x="4" y="84.95">IS_TRANSFERING</text>
<rect class="ix" y="91.4" width="224.6" height="22.85"/><text x="4" y="107.8">TRANSIT_UPDATED_TIME</text>
<rect class="w" y="114.25" width="224.6" height="22.85"/><text x="4" y="130.65">...</text>
<rect class="f" y="137.1" width="74.85" height="22.85"/><rect class="f" x="74.85" y="137.1" width="74.9" height="22.85"/><rect class="f" x="149.75" y="137.1" width="74.85" height="22.85"/><text class="r" x="145.75" y="153.5">13 rows</text>
</g>
<g id="FC_INNERC_ACCOUNT_LEDGER" class="n" transform="translate(614.5,4329)">
<rect class="h" width="248.7" height="22.85"/><text class="c" x="124.35" y="16.4">FC_INNERC_ACCOUNT_LEDGER</text>
<rect class="pk" y="22.85" width="248.7" height="22.85"/><text x="4" y="39.25">ACCOUNT_ALIAS</text>
<rect class="w" y="45.7" width="248.7" height="22.85"/><text x="4" y="62.1">...</text>
<rect class="f" y="68.55" width="82.9" height="22.85"/><rect class="f" x="82.9" y="68.55" width="82.9" height="22.85"/><rect class="f" x="165.8" y="68.55" width="82.9" height="22.85"/><text class="r" x="161.8" y="84.95">0 rows</text>
</g>
<g id="FC_PAY_CUST_ORDER_DETAILS" class="n" transform="translate(253,4411)">
<rect class="h" width="249.5" height="22.85"/><text class="c" x="124.75" y="16.4">FC_PAY_CUST_ORDER_DETAILS</text>
<rect class="pk" y="22.85" width="249.5" height="22.85"/><text x="4" y="39.25">ORDER_DETAILS_ID</text>
<rect class="w" y="45.7" width="249.5" height="22.85"/><text x="4" y="62.1">FC_MESSAGE_NO</text>
<rect class="w" y="68.55" width="249.5" height="22.85"/><text x="4" y="84.95">...</text>
<rect class="f" y="91.4" width="83.15" height="22.85"/><rect class="f" x="83.15" y="91.4" width="83.2" height="22.85"/><rect class="f" x="166.35" y="91.4" width="83.15" height="22.85"/><text class="r" x="162.35" y="107.8">0 rows</text>
</g>
<g id="FC_BANKMSG_ACCOUNT_SERVICE_REF" class="n" transform="translate(583.8,4448.2)">
<rect class="h" width="309.4" height="22.85"/><text class="c" x="154.7" y="16.4">FC_BANKMSG_ACCOUNT_SERVICE_REF</text>
<rect class="pk" y="22.85" width="309.4" height="22.85"/><text x="4" y="39.25">ACCOUNT_ALIAS</text>
<rect class="w" y="45.7" width="309.4" height="22.85"/><text x="4" y="62.1">...</text>
<rect class="f" y="68.55" width="103.15" height="22.85"/><rect class="f" x="103.15" y="68.55" width="103.1" height="22.85"/><rect class="f" x="206.25" y="68.55" width="103.15" height="22.85"/><text class="r" x="202.25" y="84.95">22 rows</text>
</g>
<g id="FC_PAY_FROM_CUSTOMER" class="n" transform="translate(270.7,4553.6)">
<rect class="h" width="212.8" height="22.85"/><text class="c" x="106.4" y="16.4">FC_PAY_FROM_CUSTOMER</text>
<rect class="pk" y="22.85" width="212.8" height="22.85"/><text x="4" y="39.25">FC_MESSAGE_NO</text>
<rect class="w" y="45.7" width="212.8" height="22.85"/><text x="4" y="62.1">...</text>
<rect class="f" y="68.55" width="70.95" height="22.85"/><rect class="f" x="70.95" y="68.55" width="70.9" height="22.85"/><rect class="f" x="141.85" y="68.55" width="70.95" height="22.85"/><text class="r" x="137.85" y="84.95">0 rows</text>
</g>
<g id="FC_INNERC_BANK_ACCOUNT_SECURITY" class="n" transform="translate(583,4566.8)">
<rect class="h" width="312.4" height="22.85"/><text class="c" x="156.2" y="16.4">FC_INNERC_BANK_ACCOUNT_SECURITY</text>
<rect class="pk" y="22.85" width="312.4" height="22.85"/><text x="4" y="39.25">ACCOUNT_ALIAS</text>
<rect class="w" y="45.7" width="312.4" height="22.85"/><text x="4" y="62.1">...</text>
<rect class="f" y="68.55" width="104.15" height="22.85"/><rect class="f" x="104.15" y="68.55" width="104.1" height="22.85"/><rect class="f" x="208.25" y="68.55" width="104.15" height="22.85"/><text class="r" x="204.25" y="84.95">51 rows</text>
</g>
<g id="FC_PAY_TO_NEWPAY" class="n" transform="translate(17.6,4613.6)">
<rect class="h" width="169" height="22.85"/><text class="c" x="84.5" y="16.4">FC_PAY_TO_NEWPAY</text>
<rect class="pk" y="22.85" width="169" height="22.85"/><text x="4" y="39.25">FC_MESSAGE_NO</text>
<rect class="w" y="45.7" width="169" height="22.85"/><text x="4" y="62.1">...</text>
<rect class="f" y="68.55" width="56.35" height="22.85"/><rect class="f" x="56.35" y="68.55" width="56.3" height="22.85"/><rect class="f" x="112.65" y="68.55" width="56.35" height="22.85"/><text class="r" x="108.65" y="84.95">0 rows</text>
</g>
<g id="FC_PAY_ORDER" class="n" transform="translate(304.3,4672)">
<rect class="h" width="146.3" height="22.85"/><text class="c" x="73.15" y="16.4">FC_PAY_ORDER</text>
<rect class="pk" y="22.85" width="146.3" height="22.85"/><text x="4" y="39.25">FC_MESSAGE_NO</text>
<rect class="w" y="45.7" width="146.3" height="22.85"/><text x="4" y="62.1">...</text>
<rect class="f" y="68.55" width="46.65" height="22.85"/><rect class="f" x="46.65" y="68.55" width="53" height="22.85"/><rect class="f" x="99.65" y="68.55" width="46.65" height="22.85"/><text class="r" x="95.65" y="84.95">0 rows</text>
</g>
<g id="FC_INNERC_ACCOUNT_DETAIL" class="n" transform="translate(619,4685.3)">
<rect class="h" width="240.6" height="22.85"/><text class="c" x="120.3" y="16.4">FC_INNERC_ACCOUNT_DETAIL</text>
<rect class="pk" y="22.85" width="240.6" height="22.85"/><text x="4" y="39.25">ACCOUNT_DETAIL_ID</text>
<rect class="w" y="45.7" width="240.6" height="22.85"/><text x="4" y="62.1">ACCOUNT_ALIAS</text>
<rect class="w" y="68.55" width="240.6" height="22.85"/><text x="4" y="84.95">FC_ORDER_NO</text>
<rect class="w" y="91.4" width="240.6" height="22.85"/><text x="4" y="107.8">...</text>
<rect class="f" y="114.25" width="80.2" height="22.85"/><rect class="f" x="80.2" y="114.25" width="80.2" height="22.85"/><rect class="f" x="160.4" y="114.25" width="80.2" height="22.85"/><text class="r" x="156.4" y="130.65">0 rows</text>
</g>
<g id="FC_PAY_ORDER_DETAILS" class="n" transform="translate(277.3,4790.6)">
<rect class="h" width="201.1" height="22.85"/><text class="c" x="100.55" y="16.4">FC_PAY_ORDER_DETAILS</text>
<rect class="pk" y="22.85" width="201.1" height="22.85"/><text x="4" y="39.25">FC_ORDER_NO</text>
<rect class="w" y="45.7" width="201.1" height="22.85"/><text x="4" y="62.1">FC_MESSAGE_NO</text>
<rect class="w" y="68.55" width="201.1" height="22.85"/><text x="4" y="84.95">...</text>
<rect class="f" y="91.4" width="67.05" height="22.85"/><rect class="f" x="67.05" y="91.4" width="67" height="22.85"/><rect class="f" x="134.05" y="91.4" width="67.05" height="22.85"/><text class="r" x="130.05" y="107.8">0 rows</text>
</g>
<g id="FC_PAY_FROM_NEWPAY" class="n" transform="translate(643,4850)">
<rect class="h" width="192.4" height="22.85"/><text class="c" x="96.2" y="16.4">FC_PAY_FROM_NEWPAY</text>
<rect class="pk" y="22.85" width="192.4" height="22.85"/><text x="4" y="39.25">FC_ORDER_NO</text>
<rect class="w" y="45.7" width="192.4" height="22.85"/><text x="4" y="62.1">...</text>
<rect class="f" y="68.55" width="64.15" height="22.85"/><rect class="f" x="64.15" y="68.55" width="64.1" height="22.85"/><rect class="f" x="128.25" y="68.55" width="64.15" height="22.85"/><text class="r" x="124.25" y="84.95">0 rows</text>
</g>

<g id="edges">
<path class="e cr" d="M1637,68.8 L1821,67.6"/>
<path class="e cr" d="M1600,211.3 L1832,210.1"/>
<path class="e cr" d="M1259,354 L1397,352.7"/>
<path class="e te" d="M1658,329.9 L1736,329.9"/>
<path class="e cr" d="M1218,472.9 C1330,472.9 1340,531.4 1437.2,531.4"/>
<path class="e cr" d="M1216.9,591.5 C1330,591.5 1340,554.3 1437.2,554.3"/>
<path class="e te" d="M1618.4,508.6 L1813,508.6"/>
<path class="e te" d="M1664.8,1559.7 L1769.3,1559.7"/>
<path class="e cr" d="M451.5,2166.6 C490,2162 510,2120 515,2050 C525,1900 540,1700 580,1500 C640,1200 760,900 880,770 C920,738 980,733.1 1041.4,733.1"/>
<path class="e cr" d="M847.8,1661.8 C890,1660 915,1600 922,1500 C935,1200 940,900 960,820 C975,770 1000,756 1041.4,756"/>
<path class="e cr" d="M847.8,1661.8 C890,1660 915,1600 924,1500 C935,1200 942,1000 960,950 C970,928 985,920 1000.5,920"/>
<path class="e cr" d="M847.8,1661.8 C890,1660 918,1600 928,1500 C938,1350 945,1180 960,1130 C975,1095 990,1083.8 1010.7,1083.8"/>
<path class="e cr" d="M847.8,1661.8 C890,1660 925,1600 935,1520 C942,1450 950,1390 965,1362 C980,1342 1000,1339 1019.5,1339"/>
<path class="e cr" d="M847.8,1661.8 L975.6,1661.5"/>
<path class="e cr" d="M847.8,1661.8 C900,1665 930,1720 960,1765 C985,1795 1005,1804.1 1032.7,1804.1"/>
<path class="e te" d="M847.8,1661.8 C890,1670 920,1800 960,1870 C985,1910 1010,1923.3 1043.6,1923.3"/>
<path class="e cr" d="M847.8,1661.8 C900,1680 925,1850 932,1990 C940,2090 970,2130 1050,2131 C1250,2131 1380,2160 1460,2260 C1540,2370 1600,2560 1690,2600 C1720,2613 1745,2617 1776,2617"/>
<path class="e cr" d="M847.8,1661.8 C900,1675 938,1760 942,1900 L950,2750 C955,2830 975,2864.8 1013,2864.8"/>
<path class="e cr" d="M451.5,2166.6 C490,2160 505,2120 515,2050 C522,1950 525,1880 540,1840 C550,1815 565,1807.5 591.8,1807.5"/>
<path class="e cr" d="M451.5,2166.6 C490,2162 510,2130 515,2080 C520,2010 525,1970 540,1958 C548,1951 555,1950.1 567.7,1950.1"/>
<path class="e cr" d="M451.5,2166.6 C500,2160 540,2110 570,2100 C590,2094 610,2092.8 632,2092.8"/>
<path class="e cr" d="M451.5,2166.6 C500,2170 540,2210 570,2222 C595,2233 620,2236.1 647.4,2236.1"/>
<path class="e cr" d="M451.5,2166.6 C500,2172 540,2210 540,2290 C538,2380 520,2450 535,2490 C550,2515 570,2519.5 594.7,2519.5"/>
<path class="e cr" d="M451.5,2166.6 C495,2172 512,2220 515,2300 L520,2560 C525,2660 560,2697.8 613,2697.8"/>
<path class="e cr" d="M451.5,2166.6 C495,2172 530,2220 533,2320 L537,3060 C540,3115 590,3133 700,3133 C850,3131 915,3140 935,3210 C950,3290 975,3360.1 1029,3360.1"/>
<path class="e te" d="M888,2355.3 C930,2352 950,2320 970,2270 C990,2220 1010,2192.3 1045,2192.3"/>
<path class="e cr" d="M888,2355.3 C930,2352 960,2333.7 1005,2333.7"/>
<path class="e cr" d="M888,2355.3 C930,2360 960,2400 980,2450 C992,2485 1005,2500 1032,2500"/>
<path class="e cr" d="M888,2355.3 C925,2360 940,2400 942,2500 L948,2900 C952,3000 975,3053.5 1021,3053.5"/>
<path class="e cr" d="M498.8,2497.3 L594.7,2496.6"/>
<path class="e cr" d="M178.4,2862.3 C220,2860 240,2800 226,2720 C210,2630 190,2540 230,2522 C240,2520 248,2520.1 256.8,2520.1"/>
<path class="e cr" d="M178.4,2862.3 C260,2840 360,2750 440,2697 C530,2640 620,2620 730,2618 C850,2616 930,2560 970,2510 C990,2488 1005,2477.1 1032,2477.1"/>
<path class="e cr" d="M178.4,2862.3 L646.7,2862.4"/>
<path class="e cr" d="M178.4,2862.3 C230,2865 240,2900 240,2960 C240,3040 235,3095.1 273,3095.1"/>
<path class="e cr" d="M178.4,2862.3 C215,2870 222,2950 223,3050 C225,3200 290,3320 370,3390 C450,3460 540,3509.9 647.4,3509.9"/>
<path class="e cr" d="M865.4,2675 C920,2670 960,2625 1050,2612 C1200,2598 1500,2594.1 1776,2594.1"/>
<path class="e cr" d="M865.4,2675 C920,2678 960,2701.1 1026.8,2701.1"/>
<path class="e cr" d="M1270.4,2678.3 C1320,2680 1340,2707.5 1387.5,2707.5"/>
<path class="e te" d="M1669.1,2684.7 C1725,2684 1720,2571.3 1776,2571.3"/>
<path class="e cr" d="M1283,2842 C1345,2840 1320,2730.4 1387.5,2730.4"/>
<path class="e cr" d="M1270.4,2678.3 C1315,2680 1330,2720 1332,2800 L1338,3200 C1340,3270 1360,3299.5 1401.4,3299.5"/>
<path class="e cr" d="M1283,2842 C1310,2845 1325,2870 1327,2920 L1346,3500 C1350,3620 1360,3700.1 1398.4,3700.1"/>
<path class="e te" d="M1254.3,3940.7 C1300,3938 1345,3915 1348,3850 L1350,3720 C1352,3690 1365,3677.3 1398.4,3677.3"/>
<path class="e cr" d="M490.1,3985.1 C520,3980 525,3900 526,3800 L535,2950 C540,2790 560,2720.7 613,2720.7"/>
<path class="e cr" d="M490.1,3985.1 C520,3980 530,3900 532,3700 L538,3100 C540,3000 560,2963 650,2963 C800,2962 900,2955 950,2925 C975,2905 990,2887.7 1013,2887.7"/>
<path class="e te" d="M490.1,3985.1 C525,3980 540,3900 545,3800 L568,3450 C575,3395 600,3372.8 647.4,3372.8"/>
<path class="e te" d="M490.1,3985.1 C525,3980 535,3900 540,3820 C550,3700 570,3627.3 619.6,3627.3"/>
<path class="e cr" d="M490.1,3985.1 C525,3980 540,3850 545,3770 C560,3720 700,3710 950,3688 C1150,3660 1280,3560 1330,3480 C1355,3440 1350,3276.6 1401.4,3276.6"/>
<path class="e cr" d="M490.1,3985.1 C520,3980 530,3850 540,3790 C560,3755 620,3747 730,3747 C860,3747 950,3760 975,3785 C985,3795 995,3799.7 1005,3799.7"/>
<path class="e cr" d="M490.1,3985.1 C520,3980 530,3900 540,3870 C550,3845 560,3840.4 583.8,3840.4"/>
<path class="e cr" d="M490.1,3985.1 L586.7,3983.8"/>
<path class="e te" d="M490.1,3985.1 C540,3990 570,4103.6 627,4103.6"/>
<path class="e cr" d="M490.1,3985.1 C510,3990 520,4100 530,4180 C545,4250 600,4268 730,4268 C850,4268 940,4245 980,4210 C995,4195 1005,4185.6 1021,4185.6"/>
<path class="e cr" d="M490.1,3985.1 C510,3990 525,4150 535,4220 C550,4290 620,4305 800,4305 C1100,4303 1300,4290 1360,4262 C1385,4248 1400,4239.8 1421,4239.8"/>
<path class="e te" d="M490.1,3985.1 C515,3990 530,4100 540,4220 C550,4320 570,4363.3 614.5,4363.3"/>
<path class="e te" d="M490.1,3985.1 C515,3990 525,4150 535,4300 C542,4420 550,4482.5 583.8,4482.5"/>
<path class="e te" d="M490.1,3985.1 C512,3990 520,4200 528,4400 C533,4540 545,4601.1 583,4601.1"/>
<path class="e cr" d="M490.1,3985.1 C510,3990 520,4250 528,4450 C535,4620 560,4742.4 619,4742.4"/>
<path class="e cr" d="M892.5,3817.6 C940,3818 960,3822.6 1005,3822.6"/>
<path class="e cr" d="M892.5,3817.6 C915,3820 925,3840 935,3900 C950,4000 955,4150 970,4180 C985,4205 1000,4208.5 1021,4208.5"/>
<path class="e te" d="M1274.8,4162.8 C1340,4165 1360,4217 1421,4217"/>
<path class="e cr" d="M832.5,3039.3 C900,3042 950,3076.4 1021,3076.4"/>
<path class="e cr" d="M832.5,3039.3 C900,3045 930,3130 960,3190 C975,3212 1000,3216.6 1027.5,3216.6"/>
<path class="e te" d="M856.6,3194.3 L1027.5,3193.8"/>
<path class="e cr" d="M856.6,3194.3 C920,3196 935,3260 948,3320 C960,3370 990,3383 1029,3383"/>
<path class="e cr" d="M483,3072.3 C520,3070 530,3000 560,2950 C585,2905 610,2885.3 646.7,2885.3"/>
<path class="e cr" d="M483,3072.3 C520,3074 535,3120 555,3170 C570,3205 590,3217.1 619.6,3217.1"/>
<path class="e cr" d="M483,3072.3 C515,3075 530,3150 538,3250 C545,3300 600,3312 730,3315 C850,3318 930,3340 970,3380 C990,3400 1005,3405.8 1029,3405.8"/>
<path class="e cr" d="M186.6,4647.9 C215,4645 220,4600 220,4540 C220,4490 225,4468.1 253,4468.1"/>
<path class="e te" d="M186.6,4647.9 C230,4645 230,4587.9 270.7,4587.9"/>
<path class="e te" d="M186.6,4647.9 C240,4650 260,4706.3 304.3,4706.3"/>
<path class="e cr" d="M186.6,4647.9 C225,4652 230,4720 232,4780 C235,4830 250,4847.7 277.3,4847.7"/>
<path class="e cr" d="M478.4,4824.9 C540,4824 560,4765.3 619,4765.3"/>
<path class="e te" d="M478.4,4824.9 C560,4826 580,4884.3 643,4884.3"/>
</g>
<text x="16" y="4980">Generated by SchemaSpy</text>
</svg>
